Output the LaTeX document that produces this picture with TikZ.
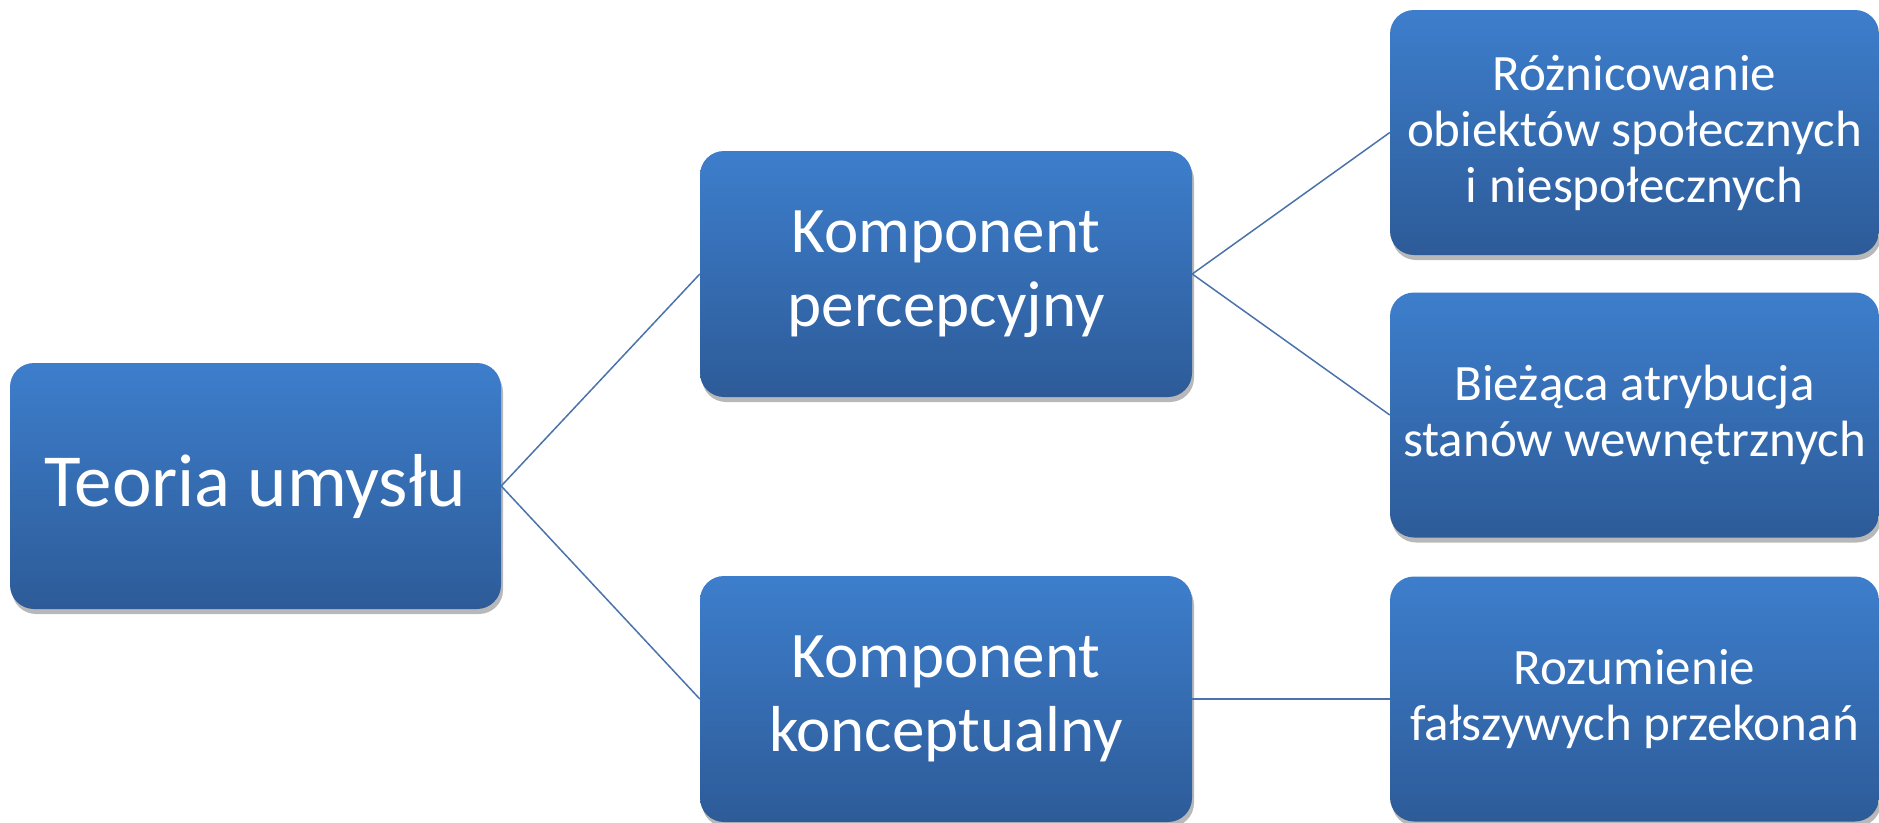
\documentclass[tikz,border=0pt]{standalone}
\usepackage{fontspec}
\setmainfont{Carlito}
\usetikzlibrary{shadows}
\definecolor{boxtop}{HTML}{3D7ECC}
\definecolor{boxbot}{HTML}{2D5B98}
\definecolor{linkc}{HTML}{4A72AB}
\tikzset{
  box/.style={rounded corners=24pt, top color=boxtop, bottom color=boxbot, draw=none,
    text=white, align=center, inner sep=0pt,
    drop shadow={shadow xshift=2pt, shadow yshift=-5pt, opacity=0.28, fill=black}},
  bigbox/.style={box, minimum width=491pt, minimum height=246pt, font=\fontsize{75}{84}\selectfont},
  midbox/.style={box, minimum width=492pt, minimum height=246pt, font=\fontsize{65}{74}\selectfont},
  smallbox/.style={box, minimum width=489pt, minimum height=245pt, font=\fontsize{51}{56}\selectfont},
  link/.style={draw=linkc, line width=1.5pt}
}
\begin{document}
\begin{tikzpicture}[x=1pt,y=-1pt]
\useasboundingbox (0,0) rectangle (1879,822);
\node[bigbox] (T) at (255.5,486) {Teoria umysłu};
\node[midbox] (P) at (946,274) {Komponent\\percepcyjny};
\node[midbox] (K) at (946,699) {Komponent\\konceptualny};
\node[smallbox] (R1) at (1634.5,132.5) {Różnicowanie\\obiektów społecznych\\i niespołecznych};
\node[smallbox] (R2) at (1634.5,415) {Bieżąca atrybucja\\stanów wewnętrznych};
\node[smallbox] (R3) at (1634.5,699) {Rozumienie\\fałszywych przekonań};
\draw[link] (T.east) -- (P.west);
\draw[link] (T.east) -- (K.west);
\draw[link] (P.east) -- (R1.west);
\draw[link] (P.east) -- (R2.west);
\draw[link] (K.east) -- (R3.west);
\end{tikzpicture}
\end{document}
